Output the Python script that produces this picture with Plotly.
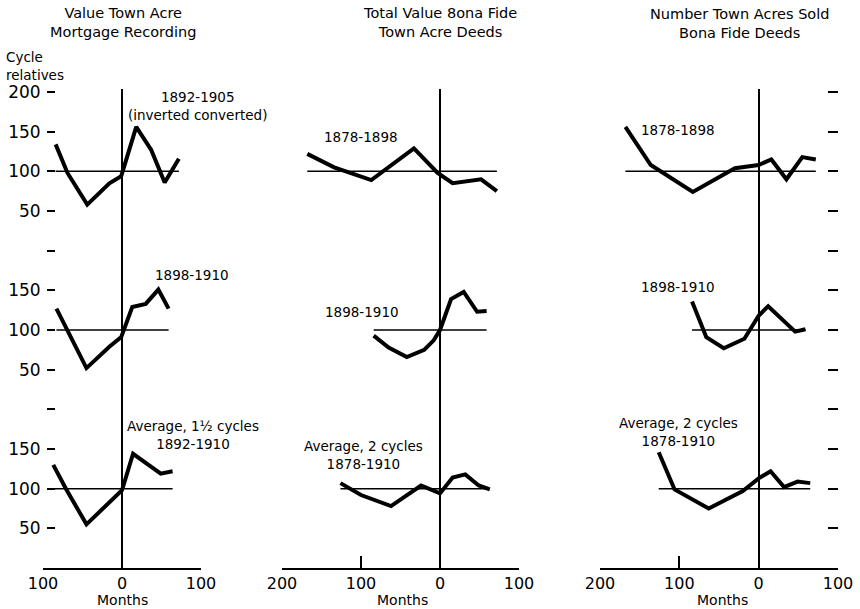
import plotly.graph_objects as go

# ---------------- data (months from turning point, cycle relatives) ----------------
# Panel 1: Value Town Acre Mortgage Recording
p1_top_x = [-84, -69, -44, -16, -1, 18, 37, 54, 72]
p1_top_y = [134, 98, 58, 85, 94, 156, 127, 86, 116]
p1_mid_x = [-83, -45, -16, -1, 13, 30, 46, 59]
p1_mid_y = [127, 52, 79, 91, 129, 133, 151, 127]
p1_bot_x = [-87, -71, -45, 0, 14, 35, 49, 64]
p1_bot_y = [130, 100, 55, 98, 144, 129, 119, 122]

# Panel 2: Total Value Bona Fide Town Acre Deeds
p2_top_x = [-168, -134, -87, -33, -3, 16, 52, 72]
p2_top_y = [122, 105, 89, 129, 98, 85, 90, 75]
p2_mid_x = [-84, -65, -42, -20, -8, 0, 14, 30, 47, 59]
p2_mid_y = [93, 78, 66, 75, 87, 100, 139, 148, 123, 124]
p2_bot_x = [-126, -100, -62, -24, 0, 16, 32, 49, 63]
p2_bot_y = [107, 92, 78, 104, 94, 114, 118, 104, 99]

# Panel 3: Number Town Acres Sold Bona Fide Deeds
p3_top_x = [-168, -136, -83, -30, 0, 16, 35, 55, 72]
p3_top_y = [156, 108, 74, 104, 108, 115, 90, 118, 115]
p3_mid_x = [-84, -66, -44, -18, 0, 12, 46, 59]
p3_mid_y = [136, 91, 77, 89, 118, 130, 98, 101]
p3_bot_x = [-126, -106, -63, -20, 0, 15, 32, 49, 65]
p3_bot_y = [146, 99, 75, 97, 113, 122, 102, 109, 107]

panel_titles = ["Value Town Acre<br>Mortgage Recording",
                "Total Value 8ona Fide<br>Town Acre Deeds",
                "Number Town Acres Sold<br>Bona Fide Deeds"]
series_labels = [
    ["1892-1905<br>(inverted converted)", "1898-1910", "Average, 1½ cycles<br>1892-1910"],
    ["1878-1898", "1898-1910", "Average, 2 cycles<br>1878-1910"],
    ["1878-1898", "1898-1910", "Average, 2 cycles<br>1878-1910"],
]
y_tick_vals = [50, 100, 150, 200, 250, 300, 350, 400, 450, 500, 550, 600]
y_tick_text = ["50", "100", "150", "", "50", "100", "150", "", "50", "100", "150", "200"]
x_ticks_left = [-100, 0, 100]
x_ticks_left_text = ["100", "0", "100"]
x_ticks_wide = [-200, -100, 0, 100]
x_ticks_wide_text = ["200", "100", "0", "100"]
x_title = "Months"
y_title = "Cycle<br>relatives"

# vertical offsets for the three stacked curves (top, middle, bottom)
offsets = [400, 200, 0]

W, H = 860, 609
FONT = "DejaVu Sans"

panels = [
    [(p1_top_x, p1_top_y), (p1_mid_x, p1_mid_y), (p1_bot_x, p1_bot_y)],
    [(p2_top_x, p2_top_y), (p2_mid_x, p2_mid_y), (p2_bot_x, p2_bot_y)],
    [(p3_top_x, p3_top_y), (p3_mid_x, p3_mid_y), (p3_bot_x, p3_bot_y)],
]

fig = go.Figure()
trace_axes = [("x", "y4"), ("x2", "y2"), ("x3", "y5")]
for pi, panel in enumerate(panels):
    xa, ya = trace_axes[pi]
    for si, (xs, ys) in enumerate(panel):
        off = offsets[si]
        # reference line at 100
        fig.add_trace(go.Scatter(x=[xs[0], xs[-1]], y=[100 + off, 100 + off], mode="lines",
                                 line=dict(color="black", width=1.5), xaxis=xa, yaxis=ya,
                                 hoverinfo="skip", showlegend=False))
        fig.add_trace(go.Scatter(x=xs, y=[v + off for v in ys], mode="lines",
                                 line=dict(color="black", width=4), xaxis=xa, yaxis=ya,
                                 showlegend=False))

ydom = [(H - 568) / H, (H - 89) / H]
yrange = [0, 479 / 0.7933]

xdoms = [[43 / W, 201 / W], [282 / W, 519 / W], [600 / W, 838 / W]]
xranges = [[-100, 100], [-200, 100], [-200, 100]]
xtv = [x_ticks_left, x_ticks_wide, x_ticks_wide]
xtt = [x_ticks_left_text, x_ticks_wide_text, x_ticks_wide_text]

layout = dict(width=W, height=H, margin=dict(l=0, r=0, t=0, b=0, autoexpand=False),
              plot_bgcolor="white", paper_bgcolor="white",
              font=dict(family=FONT, color="black", size=13), showlegend=False)

ids = ["", "2", "3"]
for pi in range(3):
    layout["xaxis" + ids[pi]] = dict(
        domain=xdoms[pi], range=xranges[pi], anchor="y" + ids[pi], automargin=False,
        showgrid=False, zeroline=True, zerolinecolor="black", zerolinewidth=1.5,
        showline=True, linecolor="black", linewidth=2,
        ticks="inside", ticklen=12, tickwidth=2, tickcolor="black",
        tickmode="array", tickvals=xtv[pi], ticktext=xtt[pi],
        tickfont=dict(size=16, family=FONT), fixedrange=True)
    layout["yaxis" + ids[pi]] = dict(
        domain=ydom, range=yrange, anchor="x" + ids[pi], automargin=False,
        showgrid=False, zeroline=False, showline=False, ticks="", showticklabels=False,
        fixedrange=True)

# left tick column (labels) overlaying panel 1
layout["yaxis4"] = dict(overlaying="y", anchor="free", position=55 / W, side="left",
                        domain=ydom, range=yrange, automargin=False, showgrid=False,
                        zeroline=False, showline=False, ticks="outside", ticklen=8,
                        tickwidth=2, tickcolor="black", tickmode="array",
                        tickvals=y_tick_vals, ticktext=y_tick_text,
                        tickfont=dict(size=17, family=FONT), ticklabelstandoff=3,
                        fixedrange=True)
# right tick column overlaying panel 3
layout["yaxis5"] = dict(overlaying="y3", anchor="free", position=827 / W, side="right",
                        domain=ydom, range=yrange, automargin=False, showgrid=False,
                        zeroline=False, showline=False, ticks="outside", ticklen=10,
                        tickwidth=2, tickcolor="black", tickmode="array",
                        tickvals=y_tick_vals, showticklabels=False, fixedrange=True)

fig.update_layout(**layout)

ann = []
# panel titles
title_pos = [(123, 23), (440, 23), (739, 24)]
for t, (px, py) in zip(panel_titles, title_pos):
    ann.append(dict(text=t, x=px / W, y=1 - py / H, xref="paper", yref="paper",
                    showarrow=False, xanchor="center", yanchor="middle",
                    font=dict(size=14.5, family=FONT)))
# axis titles
ann.append(dict(text=y_title, x=4 / W, y=1 - 66 / H, xref="paper", yref="paper",
                showarrow=False, xanchor="left", yanchor="middle", align="left",
                font=dict(size=13.5, family=FONT)))
for cx in (123, 402, 722):
    ann.append(dict(text=x_title, x=cx / W, y=1 - 600 / H, xref="paper", yref="paper",
                    showarrow=False, xanchor="center", yanchor="middle",
                    font=dict(size=14, family=FONT)))
# series labels (pixel centres)
label_pos = [
    [(197, 106), (192, 275), (193, 435)],
    [(361, 137), (362, 312), (363, 455)],
    [(678, 130), (678, 287), (678, 432)],
]
for pi in range(3):
    for si in range(3):
        px, py = label_pos[pi][si]
        ann.append(dict(text=series_labels[pi][si], x=px / W, y=1 - py / H, xref="paper",
                        yref="paper", showarrow=False, xanchor="center", yanchor="middle",
                        font=dict(size=13.5, family=FONT)))
fig.update_layout(annotations=ann)

fig.write_html("out.html")
